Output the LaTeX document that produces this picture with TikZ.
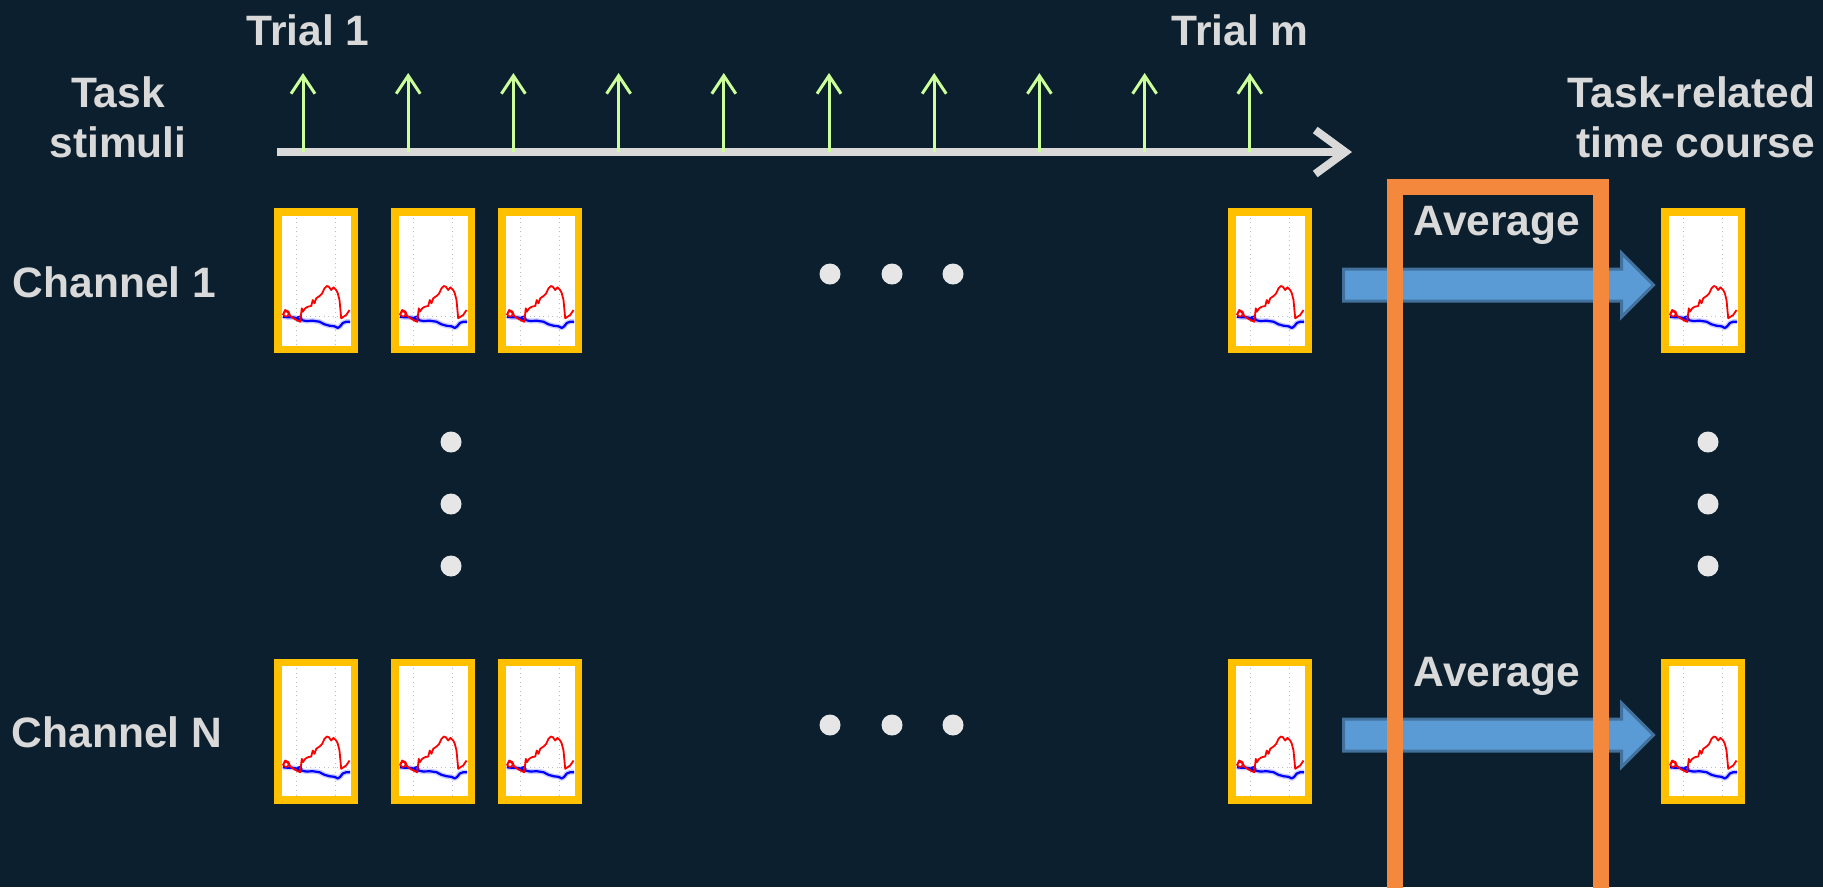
\documentclass[tikz,border=0pt]{standalone}
\usepackage{fontspec}
\setmainfont{Liberation Sans}
\usetikzlibrary{arrows.meta,shapes.arrows}

\definecolor{bg}{HTML}{0B1F2E}
\definecolor{txt}{HTML}{D9D9D9}
\definecolor{dotc}{HTML}{E7E6E6}
\definecolor{tilec}{HTML}{FFC000}
\definecolor{avgc}{HTML}{F4883C}
\definecolor{arrc}{HTML}{5B9BD5}
\definecolor{arrd}{HTML}{41719C}
\definecolor{stimc}{HTML}{CCFF99}

% small response plot drawn inside every tile
\tikzset{
  pics/trace/.style={code={
    \begin{scope}[x=0.1mm,y=0.1mm,shift={(-34.5,-64.5)}]
    \draw[gray!50,densely dotted,line width=0.1mm] (15,0) -- (15,129) (54,0) -- (54,129) (15,28.3) -- (69,28.3);
    \draw[blue!20,line width=0.5mm,line join=round] plot coordinates {(1.3,28.3) (6.3,27.7) (11.3,27.7) (16.3,26.7) (19.7,25) (24.7,24) (31.3,24.3) (38,23.3) (43,20.7) (48,19.3) (53,18.7) (56.3,17) (58.7,18.7) (61.3,22) (64.7,23.3) (68.7,23.3)};
    \draw[blue,line width=0.22mm,line join=round] plot coordinates {(1.3,28.3) (6.3,27.7) (11.3,27.7) (16.3,26.7) (19.7,25) (24.7,24) (31.3,24.3) (38,23.3) (43,20.7) (48,19.3) (53,18.7) (56.3,17) (58.7,18.7) (61.3,22) (64.7,23.3) (68.7,23.3)};
    \draw[blue,line width=0.15mm] (18,26.5) circle (2.2);
    \draw[red,line width=0.18mm,line join=round] plot coordinates {(1.3,30) (3.7,35) (7,33.3) (8.7,29) (12,26.7) (16.3,24.3) (18.7,23.3) (20.3,36.7) (21.3,33.3) (23.7,36.7) (26.3,38.3) (29.7,39) (31.3,45) (33,41.7) (34.7,46.7) (38,49) (40.7,51.7) (43,56.7) (45.3,59) (47.3,58.3) (49.7,55) (52,57.7) (54.7,55) (56.3,51.7) (58,45) (59.7,26.7) (62,28.3) (64.7,30) (68,35)};
    \draw[red,line width=0.15mm] (4.5,31) circle (2.5);
    \end{scope}
  }}
}

\begin{document}
\begin{tikzpicture}[x=0.1mm,y=-0.1mm,
  lbl/.style={text=txt,font=\fontsize{12.1}{14.2}\selectfont\bfseries,inner sep=0pt},
  tile/.style={draw=tilec,fill=white,line width=0.75mm,minimum width=7.65mm,minimum height=13.75mm,inner sep=0pt},
  avgarrow/.style={single arrow,single arrow head extend=1.6mm,minimum height=31mm,inner sep=1.45mm,fill=arrc,draw=arrd,line width=0.3mm,anchor=tail},
  stim/.style={stimc,line width=0.3mm,-{Straight Barb[length=1.8mm,width=2.4mm]}},
  timeline/.style={txt,line width=0.8mm,-{Straight Barb[length=3mm,width=4.4mm]}},
  bigdot/.style={fill=dotc}]

\fill[bg] (0,0) rectangle (1823,887);
\useasboundingbox (0,0) rectangle (1823,887);

% time axis with one stimulus per trial
\coordinate (tstart) at (277,152);
\coordinate (tend) at (1352,152);
\draw[timeline] (tstart) -- (tend);
\foreach \i in {0,...,9} {
  \coordinate (s\i) at ({303+105.2*\i},152);
  \draw[stim] (s\i) -- ++(0,-79);
}

% single trials, first and last channel
\foreach \x [count=\i] in {316,433,540,1270} {
  \node[tile] (ch1-\i) at (\x,280.5) {};
  \pic at (ch1-\i.center) {trace};
  \node[tile] (chN-\i) at (\x,731) {};
  \pic at (chN-\i.center) {trace};
}
\node[tile] (res1) at (1703,280.5) {};
\pic at (res1.center) {trace};
\node[tile] (resN) at (1703,731) {};
\pic at (resN.center) {trace};

% ellipses
\foreach \x in {830,892,953} {
  \fill[bigdot] (\x,274) circle (10.5);
  \fill[bigdot] (\x,725) circle (10.5);
}
\foreach \y in {442,504,566} {
  \fill[bigdot] (451,\y) circle (10.5);
  \fill[bigdot] (1708,\y) circle (10.5);
}

\node[avgarrow] (mean1) at (1342,285) {};
\node[avgarrow] (meanN) at (1342,735) {};

\draw[avgc,line width=1.6mm] (1395,900) -- (1395,187) -- (1601,187) -- (1601,900);

\node[lbl,anchor=base] (trial1) at (308,45) {Trial 1};
\node[lbl,anchor=base] (trialm) at (1240,45) {Trial m};
\node[lbl,anchor=north,align=center] (stimuli) at (118,76) {Task\\stimuli};
\node[lbl,anchor=north east,align=right] (course) at (1816,76) {Task-related\\time course};
\node[lbl,anchor=base west] (chan1) at (12,297) {Channel 1};
\node[lbl,anchor=base west] (chanN) at (11,747) {Channel N};
\node[lbl,anchor=base] (avg1) at (1497,235) {Average};
\node[lbl,anchor=base] (avgN) at (1497,686) {Average};
\end{tikzpicture}
\end{document}
